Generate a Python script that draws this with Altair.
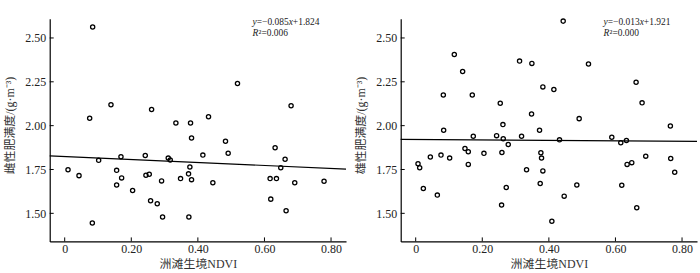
import altair as alt
import pandas as pd

# ---------------- data ----------------
female_ndvi = [0.084, 0.075, 0.139, 0.261, 0.334, 0.378, 0.381, 0.010, 0.043, 0.102,
               0.169, 0.156, 0.171, 0.156, 0.204, 0.083, 0.242, 0.244, 0.254, 0.258,
               0.278, 0.291, 0.294, 0.311, 0.317, 0.348, 0.376, 0.372, 0.381, 0.373,
               0.519, 0.432, 0.483, 0.491, 0.415, 0.445, 0.680, 0.632, 0.662, 0.649,
               0.617, 0.636, 0.691, 0.779, 0.619, 0.665]
female_fat = [2.562, 2.042, 2.119, 2.092, 2.015, 2.015, 1.930, 1.749, 1.715, 1.802,
              1.823, 1.745, 1.702, 1.662, 1.630, 1.445, 1.830, 1.717, 1.723, 1.572,
              1.555, 1.685, 1.479, 1.815, 1.804, 1.698, 1.764, 1.725, 1.692, 1.479,
              2.240, 2.051, 1.911, 1.843, 1.832, 1.674, 2.113, 1.874, 1.808, 1.760,
              1.698, 1.698, 1.674, 1.683, 1.581, 1.515]

male_ndvi = [0.116, 0.141, 0.083, 0.170, 0.084, 0.173, 0.254, 0.262, 0.312, 0.349,
             0.382, 0.348, 0.372, 0.243, 0.263, 0.318, 0.278, 0.007, 0.012, 0.044,
             0.076, 0.102, 0.023, 0.065, 0.148, 0.158, 0.158, 0.205, 0.259, 0.272,
             0.258, 0.333, 0.376, 0.378, 0.382, 0.374, 0.409, 0.443, 0.519, 0.415,
             0.491, 0.432, 0.662, 0.680, 0.765, 0.589, 0.616, 0.633, 0.691, 0.649,
             0.635, 0.766, 0.778, 0.484, 0.619, 0.446, 0.664]
male_fat = [2.406, 2.309, 2.175, 2.175, 1.974, 1.940, 2.128, 2.006, 2.368, 2.355,
            2.221, 2.066, 1.974, 1.943, 1.925, 1.940, 1.892, 1.783, 1.760, 1.821,
            1.832, 1.815, 1.642, 1.604, 1.870, 1.851, 1.779, 1.842, 1.847, 1.647,
            1.547, 1.749, 1.845, 1.815, 1.742, 1.670, 1.455, 2.596, 2.351, 2.206,
            2.040, 1.919, 2.247, 2.130, 1.998, 1.934, 1.902, 1.915, 1.826, 1.789,
            1.779, 1.813, 1.734, 1.662, 1.660, 1.598, 1.532]

slopes = [-0.085, -0.013]
intercepts = [1.824, 1.921]
eq_coef = ["0.085", "0.013"]
eq_const = ["1.824", "1.921"]
r2_text = ["0.006", "0.000"]
y_titles = ["雌性肥满度/(g·m⁻³)", "雄性肥满度/(g·m⁻³)"]
x_title = "洲滩生境NDVI"

x_ticks = [0, 0.2, 0.4, 0.6, 0.8]
y_ticks = [1.50, 1.75, 2.00, 2.25, 2.50]
x_domain = [-0.045, 0.845]
y_domain = [1.34, 2.61]

W, H = 298, 224
SERIF = "Liberation Serif"
CJK = "'Liberation Serif', 'Noto Sans CJK SC'"
TXT = "#222222"


def panel(i, ndvi, fat):
    df = pd.DataFrame({"ndvi": ndvi, "fat": fat})
    xs = alt.Scale(domain=x_domain, nice=False, zero=False)
    ys = alt.Scale(domain=y_domain, nice=False, zero=False)
    x_axis = alt.Axis(values=x_ticks, title=x_title, ticks=False, grid=False,
                      labelExpr="datum.value == 0 ? '0' : format(datum.value, '.2f')",
                      labelPadding=2, titlePadding=4)
    y_axis = alt.Axis(values=y_ticks, title=y_titles[i], ticks=False, grid=False,
                      format=".2f", labelPadding=4, titlePadding=8, titleY=107)

    pts = alt.Chart(df).mark_point(shape="circle", filled=False, size=18,
                                   strokeWidth=1.3, color="black", opacity=1).encode(
        x=alt.X("ndvi:Q", scale=xs, axis=x_axis),
        y=alt.Y("fat:Q", scale=ys, axis=y_axis),
    )

    line_df = pd.DataFrame({
        "ndvi": x_domain,
        "fat": [slopes[i] * v + intercepts[i] for v in x_domain],
    })
    line = alt.Chart(line_df).mark_line(color="black", strokeWidth=1.2).encode(
        x=alt.X("ndvi:Q", scale=xs), y=alt.Y("fat:Q", scale=ys))

    xt = alt.Chart(pd.DataFrame({"v": x_ticks})).mark_rule(color="black", strokeWidth=1).encode(
        x=alt.X("v:Q", scale=xs), y=alt.value(H), y2=alt.value(H - 4))
    yt = alt.Chart(pd.DataFrame({"v": y_ticks})).mark_rule(color="black", strokeWidth=1).encode(
        y=alt.Y("v:Q", scale=ys), x=alt.value(0), x2=alt.value(4))

    fs = 9.5
    x0 = 204
    segs = [
        ("y", "italic", 0, 6),
        ("=−" + eq_coef[i], "normal", 0.444 * fs, 6),
        ("x", "italic", 3.822 * fs, 6),
        ("+" + eq_const[i], "normal", 4.266 * fs, 6),
        ("R", "italic", 0, 17),
        ("²=" + r2_text[i], "normal", 0.64 * fs, 17),
    ]
    texts = []
    for t, style, dx, yb in segs:
        texts.append(
            alt.Chart(pd.DataFrame({"t": [t]})).mark_text(
                font=SERIF, fontSize=fs, fontStyle=style, align="left",
                baseline="alphabetic", color=TXT).encode(
                x=alt.value(x0 + dx), y=alt.value(yb), text="t:N"))

    return alt.layer(line, pts, xt, yt, *texts).properties(width=W, height=H)


chart = alt.hconcat(
    panel(0, female_ndvi, female_fat),
    panel(1, male_ndvi, male_fat),
    spacing=6,
).properties(
    padding={"left": 4, "top": 15, "right": 0, "bottom": 0}
).configure_view(stroke=None).configure_axis(
    domainColor="black", domainWidth=1.2,
    labelFont=SERIF, labelFontSize=12, labelColor=TXT,
    titleFont=CJK, titleFontSize=12, titleFontWeight="normal", titleColor="#333333",
)

chart.save("out.html", embed_options={"renderer": "svg", "actions": False})
